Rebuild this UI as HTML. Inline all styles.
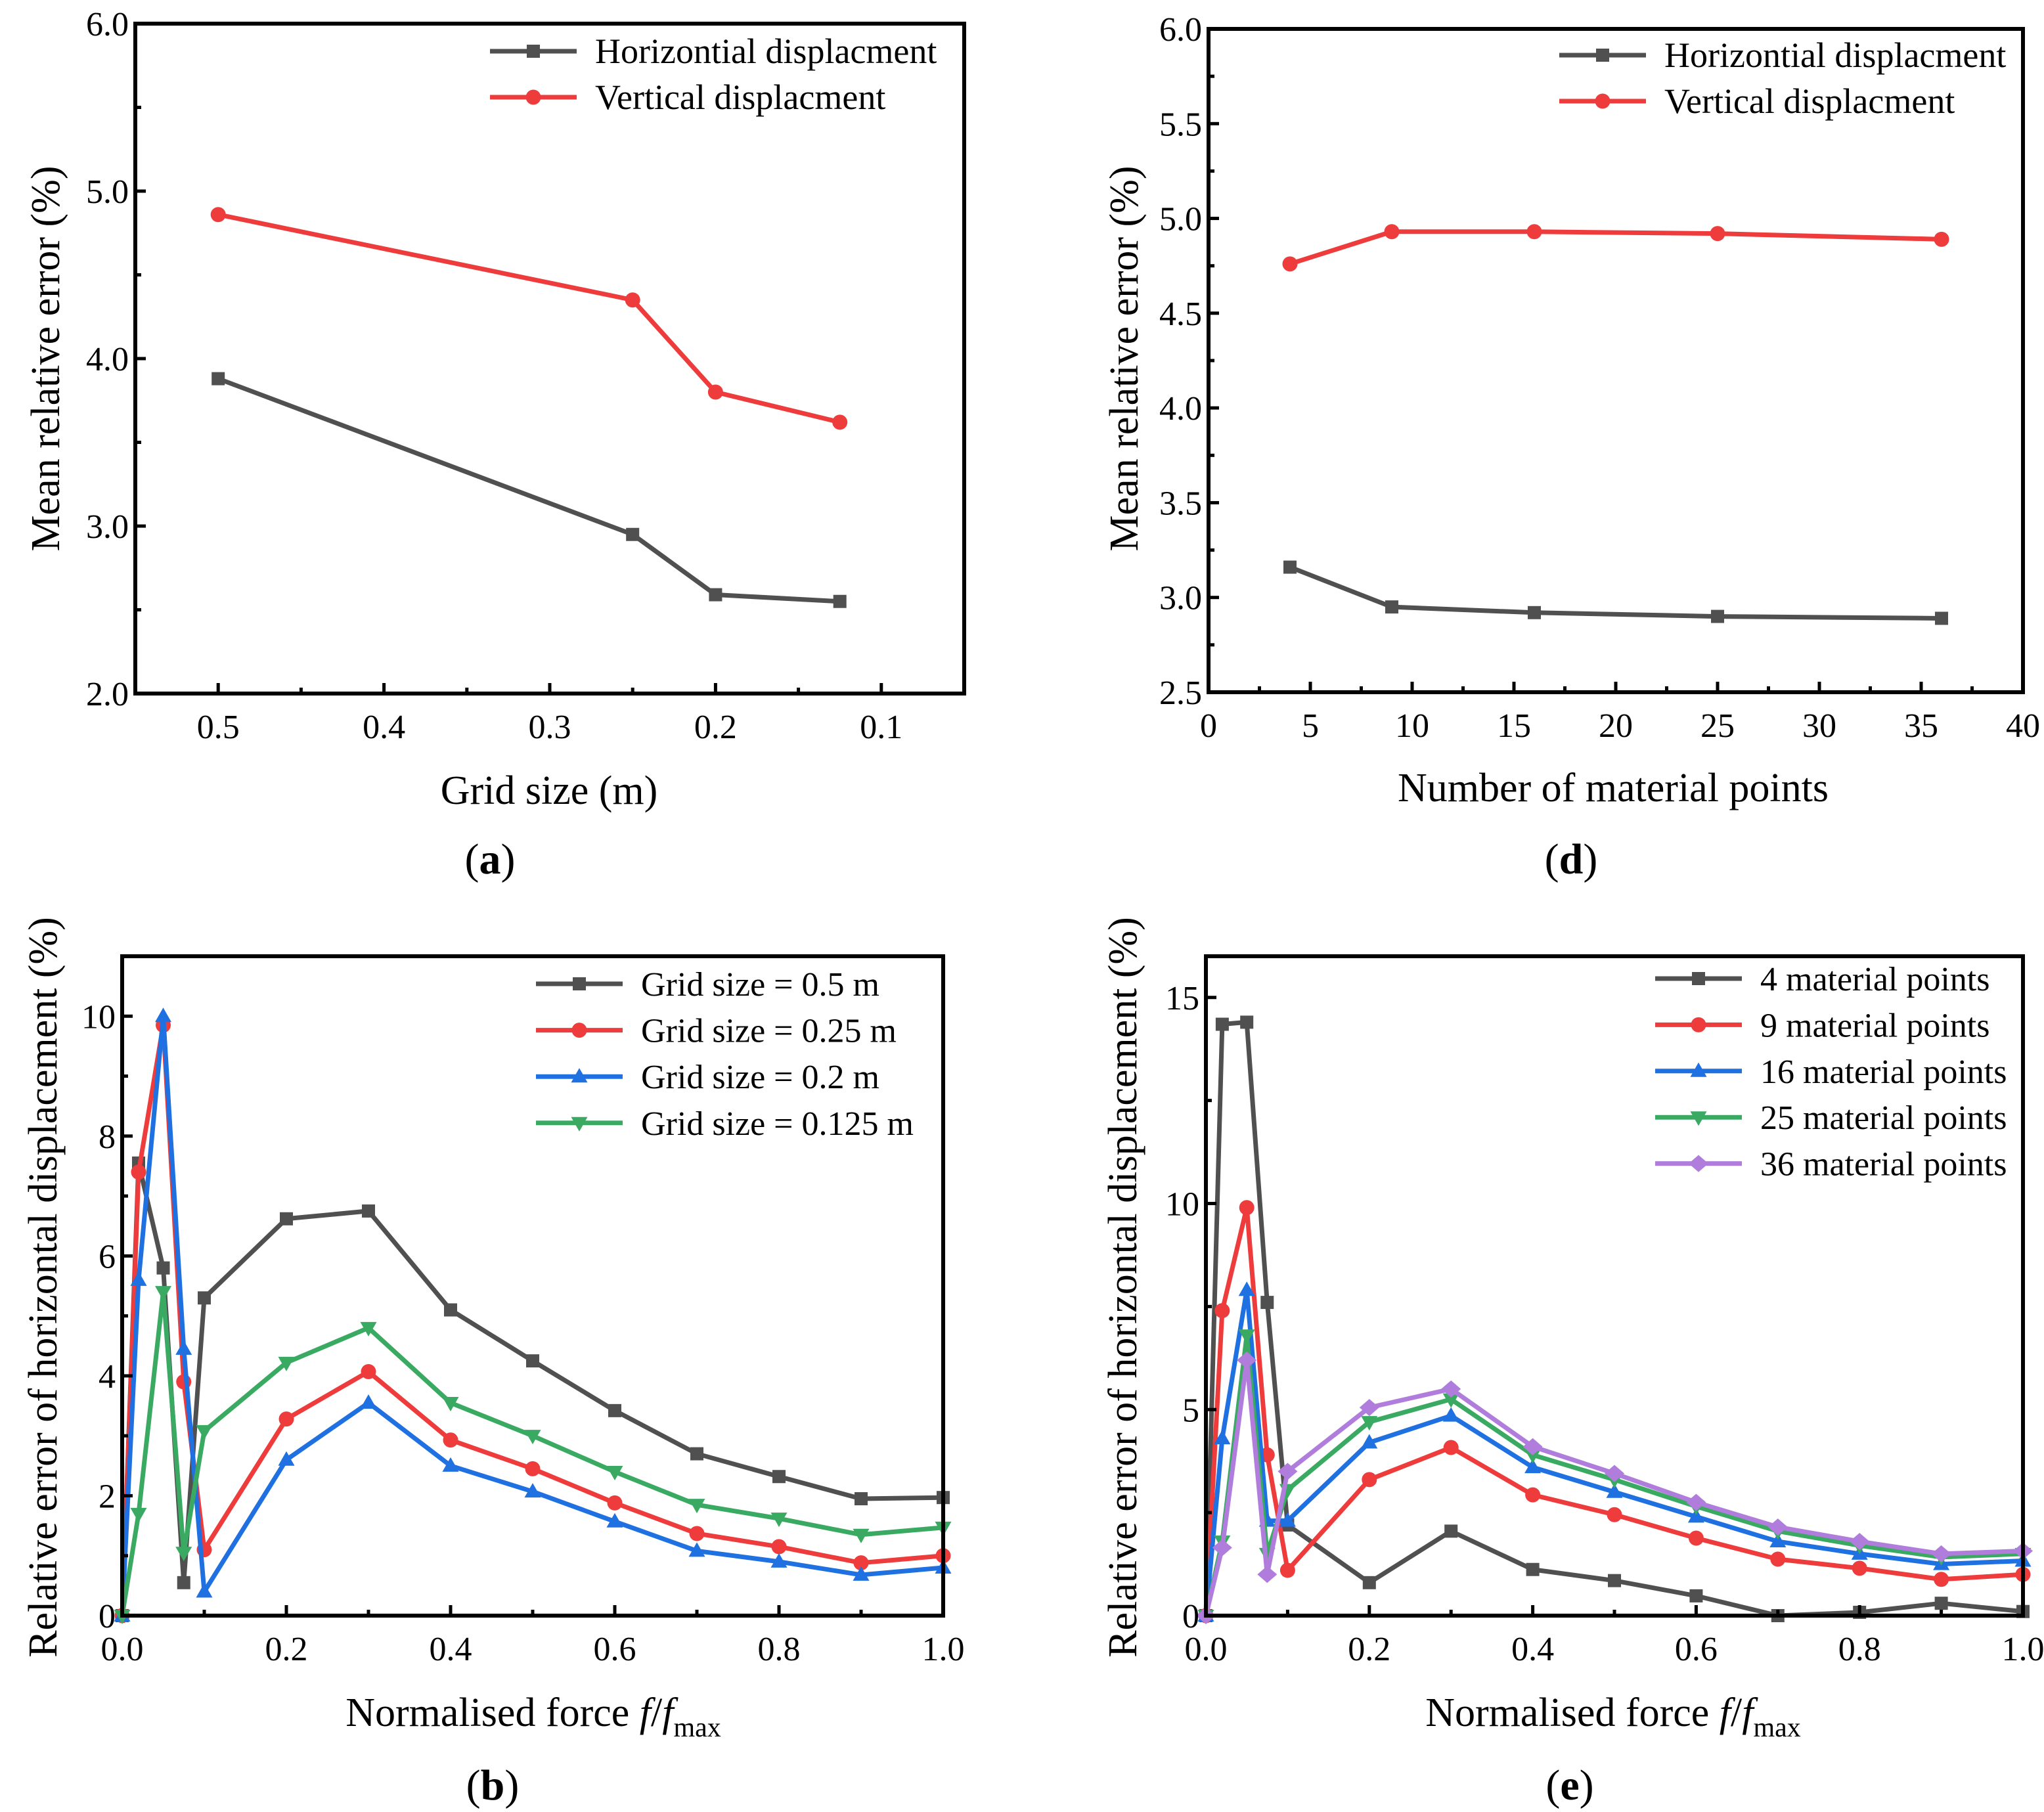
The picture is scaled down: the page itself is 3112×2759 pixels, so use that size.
<!DOCTYPE html>
<html><head><meta charset="utf-8"><style>
html,body{margin:0;padding:0;background:#fff;}
svg, svg text{font-family:"Liberation Serif","Times New Roman",serif;}
</style></head><body>
<svg id="fig" xmlns="http://www.w3.org/2000/svg" width="3112" height="2754" viewBox="0 0 1556 1377" font-family="Liberation Serif, serif"></svg>
<script>
const NS='http://www.w3.org/2000/svg';
const svg=document.getElementById('fig');
// ---- data ----
const aCategories=[0.5,0.25,0.2,0.125];
const aHoriz=[3.88,2.95,2.59,2.55];
const aVert=[4.86,4.35,3.80,3.62];
const aXTicks=['0.5','0.4','0.3','0.2','0.1'];
const aYTicks=['2.0','3.0','4.0','5.0','6.0'];
const dCategories=[4,9,16,25,36];
const dHoriz=[3.16,2.95,2.92,2.90,2.89];
const dVert=[4.76,4.93,4.93,4.92,4.89];
const dXTicks=['0','5','10','15','20','25','30','35','40'];
const dYTicks=['2.5','3.0','3.5','4.0','4.5','5.0','5.5','6.0'];
const forceLevels=[0,0.02,0.05,0.075,0.1,0.2,0.3,0.4,0.5,0.6,0.7,0.8,0.9,1.0];
const bGrid05=[0,7.55,5.8,0.55,5.3,6.62,6.75,5.1,4.25,3.42,2.7,2.32,1.95,1.97];
const bGrid025=[0,7.4,9.85,3.9,1.1,3.28,4.07,2.93,2.45,1.88,1.37,1.15,0.88,1.0];
const bGrid02=[0,5.6,10.0,4.45,0.4,2.6,3.55,2.5,2.07,1.57,1.08,0.9,0.68,0.8];
const bGrid0125=[0,1.7,5.4,1.05,3.08,4.22,4.8,3.55,3.0,2.4,1.85,1.62,1.35,1.47];
const bXTicks=['0.0','0.2','0.4','0.6','0.8','1.0'];
const bYTicks=['0','2','4','6','8','10'];
const eMp4=[0,14.35,14.4,7.6,2.2,0.8,2.05,1.12,0.85,0.48,0,0.08,0.3,0.1];
const eMp9=[0,7.4,9.9,3.9,1.1,3.3,4.08,2.93,2.45,1.88,1.37,1.15,0.88,1.0];
const eMp16=[0,4.3,7.9,2.3,2.3,4.2,4.85,3.6,3.0,2.4,1.8,1.5,1.25,1.33];
const eMp25=[0,1.8,6.8,1.5,3.05,4.7,5.25,3.9,3.3,2.65,2.05,1.7,1.42,1.5];
const eMp36=[0,1.65,6.2,1.0,3.5,5.05,5.5,4.1,3.45,2.75,2.15,1.8,1.5,1.57];
const eXTicks=['0.0','0.2','0.4','0.6','0.8','1.0'];
const eYTicks=['0','5','10','15'];

const C={k:'#505050',r:'#ee3b3b',b:'#1f70e0',g:'#3aaa62',p:'#b07ddd'};
const FONT='"Liberation Serif", "Times New Roman", serif';
function el(tag,attrs,parent){const e=document.createElementNS(NS,tag);for(const k in attrs)e.setAttribute(k,attrs[k]);(parent||svg).appendChild(e);return e;}
function txt(s,x,y,size,parent,anchor){const t=el('text',{x:x,y:y,'font-size':size,'text-anchor':anchor||'middle',fill:'#000'},parent);t.style.fontFamily=FONT;t.textContent=s;return t;}
function marker(g,shape,x,y,col,s){
  if(shape==='sq')return el('rect',{x:x-s,y:y-s,width:2*s,height:2*s,fill:col},g);
  if(shape==='ci')return el('circle',{cx:x,cy:y,r:s*1.15,fill:col},g);
  if(shape==='tu')return el('polygon',{points:`${x},${y-s*1.3} ${x-s*1.25},${y+s*0.9} ${x+s*1.25},${y+s*0.9}`,fill:col},g);
  if(shape==='td')return el('polygon',{points:`${x},${y+s*1.3} ${x-s*1.25},${y-s*0.9} ${x+s*1.25},${y-s*0.9}`,fill:col},g);
  if(shape==='di')return el('polygon',{points:`${x},${y-s*1.3} ${x+s*1.5},${y} ${x},${y+s*1.3} ${x-s*1.5},${y}`,fill:col},g);
}
function panel(o){
  const g=el('g',{});
  
  
  const sx=v=>o.L+(v-o.x0)/(o.x1-o.x0)*(o.R-o.L);
  const sy=v=>o.B-(v-o.y0)/(o.y1-o.y0)*(o.B-o.T);
  o.series.forEach((s,si)=>{
    const sg=el('g',{},g);
    
    
    const pts=s.vals.map((v,i)=>sx(o.xs[i])+','+sy(v)).join(' ');
    el('polyline',{points:pts,fill:'none',stroke:s.col,'stroke-width':3.5,'stroke-linejoin':'round'},sg);
    s.vals.forEach((v,i)=>{const m=marker(sg,s.shape,sx(o.xs[i]),sy(v),s.col,5);
      
      });
  });
  const fr=el('rect',{x:o.L,y:o.T,width:o.R-o.L,height:o.B-o.T,fill:'none',stroke:'#000','stroke-width':3},g);
  
  
  const xg=el('g',{},g);
  
  
  o.xTicks.forEach(t=>{const v=parseFloat(t),x=sx(v);
    el('line',{x1:x,y1:o.B,x2:x,y2:o.B-8,stroke:'#000','stroke-width':2.5},xg);
    txt(t,x,o.B+34,26,xg);});
  o.xMinor.forEach(v=>{const x=sx(v);el('line',{x1:x,y1:o.B,x2:x,y2:o.B-4.5,stroke:'#000','stroke-width':2.5},xg);});
  const yg=el('g',{},g);
  
  
  o.yTicks.forEach(t=>{const v=parseFloat(t),y=sy(v);
    el('line',{x1:o.L,y1:y,x2:o.L+8,y2:y,stroke:'#000','stroke-width':2.5},yg);
    txt(t,o.L-5,y+9,26,yg,'end');});
  o.yMinor.forEach(v=>{const y=sy(v);el('line',{x1:o.L,y1:y,x2:o.L+4.5,y2:y,stroke:'#000','stroke-width':2.5},yg);});
  const xt=el('text',{x:o.xtX,y:o.xtY,'font-size':31,'text-anchor':'middle',fill:'#000'},g);
  xt.style.fontFamily=FONT;
  
  
  xt.innerHTML=o.xTitle;
  const yt=txt(o.yTitle,0,0,31,g);
  yt.setAttribute('transform',`translate(${o.ytX},${o.ytY}) rotate(-90)`);
  
  
  const pl=el('text',{x:o.plX,y:o.plY,'font-size':33,'text-anchor':'middle',fill:'#000'},g);
  pl.style.fontFamily=FONT;
  
  
  pl.innerHTML='(<tspan font-weight="bold">'+o.letter+'</tspan>)';
  const lg=el('g',{},g);
  
  
  o.series.forEach((s,i)=>{const y=o.lgY+i*o.lgDy;
    const e=el('g',{},lg);
    
    
    el('line',{x1:o.lgX,y1:y,x2:o.lgX+66,y2:y,stroke:s.col,'stroke-width':3.5},e);
    marker(e,s.shape,o.lgX+33,y,s.col,5);
    txt(s.label,o.lgX+80,y+9,o.lgSize,e,'start');});
}
const range=(a,b,st)=>{const r=[];for(let v=a;v<=b+1e-9;v+=st)r.push(+v.toFixed(4));return r;};
panel({name:'panel-a',letter:'a',L:103,R:734,T:18,B:528,x0:0.55,x1:0.05,y0:2,y1:6,
  xs:aCategories,xTicks:aXTicks,xMinor:[0.45,0.35,0.25,0.15],yTicks:aYTicks,yMinor:[2.5,3.5,4.5,5.5],
  series:[{label:'Horizontial displacment',vals:aHoriz,col:C.k,shape:'sq'},{label:'Vertical displacment',vals:aVert,col:C.r,shape:'ci'}],
  xTitle:'Grid size (m)',xtX:418,xtY:612,yTitle:'Mean relative error (%)',ytX:45,ytY:273,plX:373,plY:665,lgX:373,lgY:39,lgDy:35,lgSize:27});
panel({name:'panel-d',letter:'d',L:920,R:1540,T:22,B:527,x0:0,x1:40,y0:2.5,y1:6,
  xs:dCategories,xTicks:dXTicks,xMinor:range(2.5,37.5,5),yTicks:dYTicks,yMinor:range(2.75,5.75,0.5),
  series:[{label:'Horizontial displacment',vals:dHoriz,col:C.k,shape:'sq'},{label:'Vertical displacment',vals:dVert,col:C.r,shape:'ci'}],
  xTitle:'Number of material points',xtX:1228,xtY:610,yTitle:'Mean relative error (%)',ytX:866,ytY:273,plX:1196,plY:665,lgX:1187,lgY:42,lgDy:35,lgSize:27});
const fTitle='Normalised force <tspan font-style="italic">f</tspan>/<tspan font-style="italic">f</tspan><tspan font-size="21" dy="8">max</tspan>';
panel({name:'panel-b',letter:'b',L:93,R:718,T:728,B:1230,x0:0,x1:1,y0:0,y1:11,
  xs:forceLevels,xTicks:bXTicks,xMinor:[0.1,0.3,0.5,0.7,0.9],yTicks:bYTicks,yMinor:[1,3,5,7,9],
  series:[{label:'Grid size = 0.5 m',vals:bGrid05,col:C.k,shape:'sq'},{label:'Grid size = 0.25 m',vals:bGrid025,col:C.r,shape:'ci'},
    {label:'Grid size = 0.2 m',vals:bGrid02,col:C.b,shape:'tu'},{label:'Grid size = 0.125 m',vals:bGrid0125,col:C.g,shape:'td'}],
  xTitle:fTitle,xtX:406,xtY:1314,yTitle:'Relative error of horizontal displacement (%)',ytX:43,ytY:980,plX:375,plY:1370,lgX:408,lgY:749,lgDy:35.3,lgSize:26});
panel({name:'panel-e',letter:'e',L:918,R:1540,T:728,B:1230,x0:0,x1:1,y0:0,y1:16,
  xs:forceLevels,xTicks:eXTicks,xMinor:[0.1,0.3,0.5,0.7,0.9],yTicks:eYTicks,yMinor:[2.5,7.5,12.5],
  series:[{label:'4 material points',vals:eMp4,col:C.k,shape:'sq'},{label:'9 material points',vals:eMp9,col:C.r,shape:'ci'},
    {label:'16 material points',vals:eMp16,col:C.b,shape:'tu'},{label:'25 material points',vals:eMp25,col:C.g,shape:'td'},
    {label:'36 material points',vals:eMp36,col:C.p,shape:'di'}],
  xTitle:fTitle,xtX:1228,xtY:1314,yTitle:'Relative error of horizontal displacement (%)',ytX:865,ytY:980,plX:1195,plY:1370,lgX:1260,lgY:745,lgDy:35.2,lgSize:26});
</script>
</body></html>
